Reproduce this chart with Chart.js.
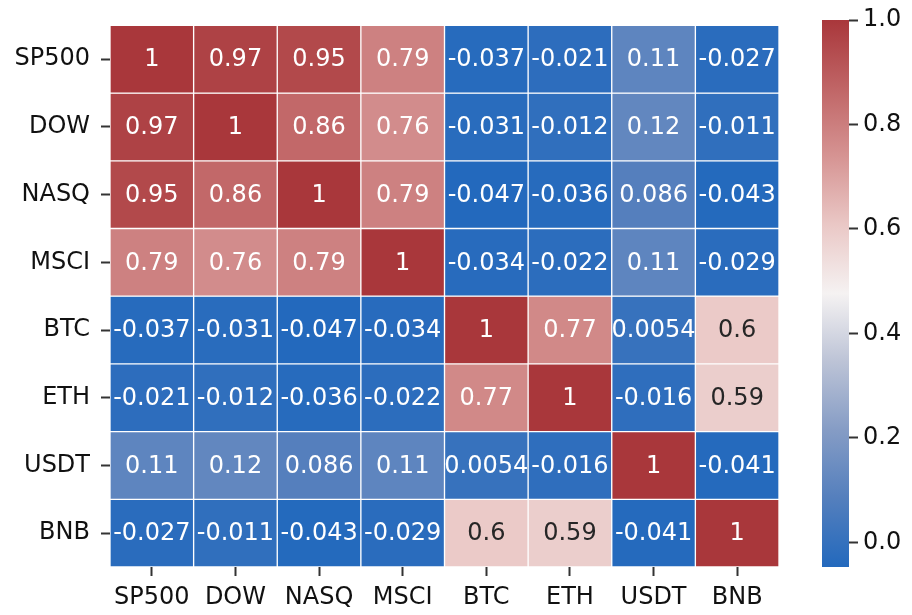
<!DOCTYPE html>
<html>
<head>
<meta charset="utf-8">
<script src="https://cdn.jsdelivr.net/npm/chart.js@4.4.1/dist/chart.umd.min.js"></script>
<style>
  html, body { margin: 0; padding: 0; background: #fff; }
  #wrap { position: relative; width: 912px; height: 615px; }
  #mainBox { position: absolute; left: 0; top: 0; width: 800px; height: 615px; }
  #barBox { position: absolute; left: 790px; top: 0; width: 122px; height: 615px; }
</style>
</head>
<body>
<div id="wrap">
  <div id="mainBox"><canvas id="heat" width="800" height="615"></canvas></div>
  <div id="barBox"><canvas id="cbar" width="122" height="615"></canvas></div>
</div>
<script>
// labels of the correlation matrix
const rowLabels = ['SP500', 'DOW', 'NASQ', 'MSCI', 'BTC', 'ETH', 'USDT', 'BNB'];
const colLabels = ['SP500', 'DOW', 'NASQ', 'MSCI', 'BTC', 'ETH', 'USDT', 'BNB'];

// one row per asset
const sp500 = [1, 0.97, 0.95, 0.79, -0.037, -0.021, 0.11, -0.027];
const dow   = [0.97, 1, 0.86, 0.76, -0.031, -0.012, 0.12, -0.011];
const nasq  = [0.95, 0.86, 1, 0.79, -0.047, -0.036, 0.086, -0.043];
const msci  = [0.79, 0.76, 0.79, 1, -0.034, -0.022, 0.11, -0.029];
const btc   = [-0.037, -0.031, -0.047, -0.034, 1, 0.77, 0.0054, 0.6];
const eth   = [-0.021, -0.012, -0.036, -0.022, 0.77, 1, -0.016, 0.59];
const usdt  = [0.11, 0.12, 0.086, 0.11, 0.0054, -0.016, 1, -0.041];
const bnb   = [-0.027, -0.011, -0.043, -0.029, 0.6, 0.59, -0.041, 1];

const colorbarTicks = [0, 0.2, 0.4, 0.6, 0.8, 1.0];

const matrix = [sp500, dow, nasq, msci, btc, eth, usdt, bnb];
const vmin = Math.min(...matrix.flat());
const vmax = Math.max(...matrix.flat());

// rough "vlag" colormap
const cmapStops = [
  [0.000, [35, 105, 189]],
  [0.125, [84, 127, 189]],
  [0.250, [133, 156, 197]],
  [0.375, [188, 195, 214]],
  [0.500, [245, 242, 242]],
  [0.625, [234, 200, 198]],
  [0.750, [214, 148, 147]],
  [0.875, [192, 101, 102]],
  [1.000, [169, 55, 59]]
];

function cmapRgb(t) {
  t = Math.max(0, Math.min(1, t));
  for (let i = 1; i < cmapStops.length; i++) {
    const [t1, c1] = cmapStops[i];
    const [t0, c0] = cmapStops[i - 1];
    if (t <= t1) {
      const f = (t - t0) / (t1 - t0);
      return c0.map((c, k) => Math.round(c + (c1[k] - c) * f));
    }
  }
  return cmapStops[cmapStops.length - 1][1];
}

function colorFor(v) {
  const c = cmapRgb((v - vmin) / (vmax - vmin));
  return `rgb(${c[0]},${c[1]},${c[2]})`;
}

// same rule seaborn uses to pick annotation colour
function textColorFor(v) {
  const c = cmapRgb((v - vmin) / (vmax - vmin)).map(x => {
    x = x / 255;
    return x <= 0.03928 ? x / 12.92 : Math.pow((x + 0.055) / 1.055, 2.4);
  });
  const lum = 0.2126 * c[0] + 0.7152 * c[1] + 0.0722 * c[2];
  return lum > 0.408 ? '#262626' : '#ffffff';
}

function fmt(v) {
  return String(Number(v.toPrecision(2)));
}

const FONT = { family: 'DejaVu Sans', size: 24 };

const annotate = {
  id: 'annotate',
  afterDatasetsDraw(chart) {
    const ctx = chart.ctx;
    ctx.save();
    ctx.font = `${FONT.size}px "${FONT.family}"`;
    ctx.textAlign = 'center';
    ctx.textBaseline = 'middle';
    matrix.forEach((row, i) => {
      const meta = chart.getDatasetMeta(i);
      meta.data.forEach((el, j) => {
        ctx.fillStyle = textColorFor(row[j]);
        ctx.fillText(fmt(row[j]), el.x, (el.y + el.base) / 2 + 1);
      });
    });
    ctx.restore();
  }
};

new Chart(document.getElementById('heat'), {
  type: 'bar',
  data: {
    labels: colLabels,
    datasets: matrix.map((row, r) => ({
      label: rowLabels[r],
      data: colLabels.map(() => [r, r + 1]),
      backgroundColor: row.map(colorFor),
      borderColor: '#ffffff',
      borderWidth: 1,
      borderSkipped: false,
      grouped: false,
      barPercentage: 1,
      categoryPercentage: 1
    }))
  },
  options: {
    responsive: false,
    animation: false,
    layout: { padding: { top: 22, right: 21, left: 0, bottom: 0 } },
    plugins: { legend: { display: false }, tooltip: { enabled: false } },
    scales: {
      x: {
        type: 'category',
        offset: true,
        grid: { offset: false, drawOnChartArea: false, tickLength: 9, tickColor: '#333', tickWidth: 2 },
        border: { display: false },
        ticks: { font: FONT, color: '#111', padding: 7, maxRotation: 0, autoSkip: false },
        afterFit(s) { s.height = 48; }
      },
      y: {
        type: 'linear',
        min: 0,
        max: 8,
        reverse: true,
        afterBuildTicks(s) { s.ticks = rowLabels.map((_, i) => ({ value: i + 0.5 })); },
        grid: { drawOnChartArea: false, tickLength: 9, tickColor: '#333', tickWidth: 2 },
        border: { display: false },
        ticks: { font: FONT, color: '#111', padding: 11, callback: (v, i) => rowLabels[i] },
        afterFit(s) { s.width = 110; }
      }
    }
  },
  plugins: [annotate]
});

// colour bar: one floating bar from vmin to vmax filled with the colormap
new Chart(document.getElementById('cbar'), {
  type: 'bar',
  data: {
    labels: [''],
    datasets: [{
      data: [[vmin, vmax]],
      backgroundColor(context) {
        const chart = context.chart;
        if (!chart.chartArea) return '#fff';
        const s = chart.scales.y;
        const g = chart.ctx.createLinearGradient(0, s.getPixelForValue(vmin), 0, s.getPixelForValue(vmax));
        cmapStops.forEach(([t, c]) => g.addColorStop(t, `rgb(${c[0]},${c[1]},${c[2]})`));
        return g;
      },
      borderWidth: 0,
      barPercentage: 1,
      categoryPercentage: 1
    }]
  },
  options: {
    responsive: false,
    animation: false,
    layout: { padding: { top: 20, right: 0, left: 32, bottom: 48 } },
    plugins: { legend: { display: false }, tooltip: { enabled: false } },
    scales: {
      x: { display: false },
      y: {
        position: 'right',
        min: vmin,
        max: vmax,
        afterBuildTicks(s) { s.ticks = colorbarTicks.map(v => ({ value: v })); },
        grid: { drawOnChartArea: false, tickLength: 9, tickColor: '#333', tickWidth: 2 },
        border: { display: false },
        ticks: { font: FONT, color: '#111', padding: 5, callback: v => v.toFixed(1) },
        afterFit(s) { s.width = 63; }
      }
    }
  }
});
</script>
</body>
</html>
